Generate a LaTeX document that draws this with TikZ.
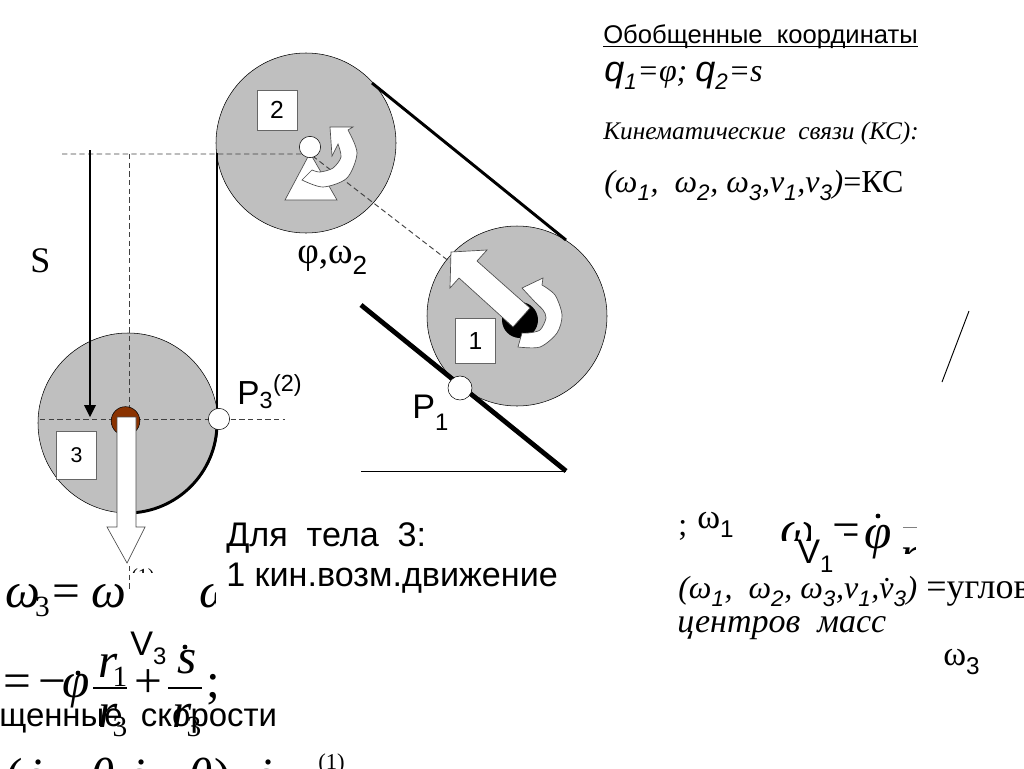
\documentclass[tikz,border=0pt]{standalone}
\usepackage{amsmath,amssymb}
\usepackage{fontspec}
\setmainfont{Liberation Serif}
\setsansfont{Liberation Sans}
\definecolor{hubbrown}{HTML}{8A3200}
\newcommand{\arialit}{\sffamily\itshape}
\newcommand{\asub}[1]{\raisebox{-.25ex}{\textsubscript{\sffamily\upshape #1}}}
\newcommand{\aisub}[1]{\raisebox{-.25ex}{\textsubscript{\arialit #1}}}
\newcommand{\px}[1]{\fontsize{#1}{#1}\selectfont}
\newcommand{\tsub}[1]{\kern-.1em\raisebox{-.2em}{\upshape\px{22}#1}}
\begin{document}
\begin{tikzpicture}
                [x=0.75pt,y=-0.75pt,
                ar/.style={anchor=base west,inner sep=0pt,font=\sffamily\px{25.6}},
                tm/.style={anchor=base west,inner sep=0pt,font=\px{24}},
                ti/.style={anchor=base west,inner sep=0pt,font=\itshape\px{24}},
                bigm/.style={anchor=base west,inner sep=0pt,font=\itshape\px{37}},
                disk/.style={circle,draw=black,fill=black!25,thin,inner sep=0pt,minimum size=135pt},
                pin/.style={circle,draw=black,fill=white,thin,inner sep=0pt,minimum size=16pt},
                num/.style={rectangle,draw=black!60,fill=white,inner sep=0pt,minimum width=30pt,font=\sffamily\px{18.5}},
                belt/.style={line width=2.2pt},
                dsh/.style={draw=black!75,line width=.7pt,dash pattern=on 4pt off 2.5pt},
                flat/.style={draw=black!70,fill=white,line width=.5pt}]
                \useasboundingbox (0,0) rectangle (1024,768);
                % bodies
                \node[disk] (disktwo) at (306,143){};
                \node[disk] (diskone) at (517,316){};
                \node[disk] (diskthree) at (128,423){};
                % incline
                \coordinate (slopetop) at (361,305);
                \coordinate (slopeend) at (566,471);
                \coordinate (groundend) at (361,471);
                \draw[line width=3.6pt] (slopetop) -- (slopeend);
                \draw[line width=.7pt] (groundend) -- (slopeend);
                % belts
                \coordinate (belttwo) at (217,153);
                \coordinate (beltthree) at (217,423);
                \coordinate (beltup) at (372,83);
                \coordinate (beltdown) at (566,240);
                \draw[belt] (belttwo) -- (beltthree);
                \draw[belt] (beltup) -- (beltdown);
                \draw[belt] (beltthree) arc[start angle=0,end angle=90,radius=90];
                % dashed axes
                \coordinate (axleft) at (62,154);
                \coordinate (axtwo) at (310,154);
                \coordinate (axone) at (450,262);
                \coordinate (axvtop) at (129,154);
                \coordinate (axvbot) at (129,420);
                \coordinate (axhl) at (40,419);
                \coordinate (axhr) at (285,419);
                \coordinate (axva) at (129,566);
                \coordinate (axvb) at (129,590);
                \draw[dsh] (axleft) -- (axtwo) -- (axone);
                \draw[dsh] (axvtop) -- (axvbot);
                \draw[dsh] (axhl) -- (axhr);
                \draw[dsh] (axva) -- (axvb);
                % s arrow
                \coordinate (stop) at (90,150);
                \coordinate (send) at (90,417);
                \draw[line width=1.1pt] (stop) -- (90,405);
                \fill (send) -- (84,405) -- (96,405) -- cycle;
                % body 2
                \draw[flat] (310,153) -- (285,200) -- (337,200) -- cycle;
                \draw[flat] plot[smooth] coordinates {(302,180) (323,187) (347,178) (357,153) (348,130)}
                            -- (353,127) -- (330,127) -- (332,156) -- (338,144)
                            -- plot[smooth] coordinates {(338,144) (341,157) (333,168) (320,172) (312,170)} -- cycle;
                \node[pin] (pintwo) at (310,147){};
                \node[num,minimum height=30pt] (boxtwo) at (277,110){2};
                % body 1
                \fill (520,320) circle[radius=13.5pt];
                \draw[flat] plot[smooth] coordinates {(518,347) (540,347) (557,333) (562,315) (555,295) (542,285)}
                            -- (543,278) -- (522,288) -- (535,302) -- (543,310)
                            -- plot[smooth] coordinates {(535,302) (543,310) (546,318) (540,330) (528,333) (522,333)} -- cycle;
                \draw[flat] (451,252) -- (487,250) -- (477,261) -- (530,308) -- (513,327) -- (459,278) -- (450,288) -- cycle;
                \node[num,minimum height=34pt] (boxone) at (475.5,341){1};
                \node[pin,minimum size=18pt] (pinone) at (460,388){};
                % body 3
                \node[circle,draw=black,fill=hubbrown,inner sep=0pt,minimum size=21.5pt] (hubthree) at (125.5,421){};
                \draw[flat] (117,417) -- (136,417) -- (136,527) -- (145,527) -- (127,563) -- (107,527) -- (117,527) -- cycle;
                \node[num,minimum height=36pt,font=\sffamily\px{16}] (boxthree) at (76.5,455){3};
                \node[pin] (pinthree) at (219,419){};
                % slanted stroke
                \coordinate (strokea) at (969,311);
                \coordinate (strokeb) at (942,382);
                \draw[line width=.7pt] (strokea) -- (strokeb);
                % top right texts
                \node[ar,font=\sffamily\px{19.2}] (coordtitle) at (603,43){\underline{\smash{Обобщенные\ \ координаты}}};
                \node[ti] (coordeq) at (604,81){{\arialit\px{27}q}\aisub{1}=φ; {\arialit\px{27}q}\aisub{2}=s};
                \node[ti,font=\itshape\px{19}] (linktitle) at (603,139){Кинематические\ \ связи (КС):};
                \node[ti] (linkeq) at (604,192){(ω\aisub{1},\ \ ω\aisub{2},\ ω\aisub{3},v\aisub{1},v\aisub{3})\upshape=КС};
                % labels
                \node[tm,font=\px{28}] (phiom) at (297,263){φ,ω\asub{2}};
                \node[tm,font=\px{27}] (slabel) at (30,272){S};
                \node[ar,font=\sffamily\px{25}] (pthree) at (237,404){P\textsubscript{3}\textsuperscript{(2)}};
                \node[ar] (pone) at (412,418){P\raisebox{-.4ex}{\textsubscript{1}}};
                \node[ar] (forbody) at (226,546){Для\ \ тела\ \ 3:};
                \node[ar] (freedom) at (226,586){1 кин.возм.движение};
                % cut formulas, left
                \node[bigm] (omthree) at (5,607){ω\tsub{3}};
                \node[bigm,font=\px{37}] (eqthree) at (52,607){=};
                \node[bigm] (omright) at (91,607){ω};
                \begin{scope}
                \clip (198,575) rectangle (215,615);
                \node[bigm] (omcut) at (199,607){ω};
                \end{scope}
                \begin{scope}
                \clip (125,564) rectangle (155,572);
                \node[tm,font=\px{15}] (supcut) at (131,582){(1)};
                \end{scope}
                % fractions
                \node[bigm,font=\px{37}] (eqfrac) at (3,697){=};
                \node[bigm,font=\px{37}] (minusfrac) at (38,697){−};
                \node[bigm] (phifrac) at (62,697){φ};
                \fill (78,673) circle[radius=2.4];
                \node[bigm] (rone) at (98,677){r\tsub{1}};
                \coordinate (barla) at (93,688);
                \coordinate (barlb) at (127,688);
                \draw[line width=.8pt] (barla) -- (barlb);
                \node[bigm] (rthree) at (98,727){r\tsub{3}};
                \node[bigm,font=\px{37}] (plusfrac) at (134,697){+};
                \node[bigm] (sdot) at (177,673){s};
                \fill (185,647) circle[radius=2.4];
                \coordinate (barra) at (168,688);
                \coordinate (barrb) at (202,688);
                \draw[line width=.8pt] (barra) -- (barrb);
                \node[bigm] (rthreeb) at (172,727){r\tsub{3}};
                \node[bigm,font=\px{37}] (semifrac) at (206,697){;};
                \node[ar] (vthree) at (130,655){V\asub{3}};
                \node[ar,font=\sffamily\px{24.7}] (speeds) at (-1,726){щенные\ \ скорости};
                % last line
                \node[bigm,font=\px{37}] (lparen) at (6,792){(};
                \node[bigm] (sone) at (25,792){\.s};
                \node[bigm] (thetaone) at (90,792){θ};
                \node[bigm] (stwo) at (128,792){\.s};
                \node[bigm] (thetatwo) at (188,792){θ};
                \node[bigm,font=\px{37}] (rparen) at (214,792){)};
                \node[bigm] (sthree) at (255,792){\.s};
                \node[tm,font=\px{17}] (lastsup) at (318,769){(1)};
                % cut formulas, right
                \node[tm] (semi) at (678,535){;};
                \node[tm,font=\px{26}] (omone) at (697,528){ω\asub{1}};
                \begin{scope}
                \clip (780,515) rectangle (810,540);
                \node[bigm] (omcuttwo) at (780,545){ω};
                \end{scope}
                \begin{scope}
                \clip (828,515) rectangle (864,529) (844,529) rectangle (862,540);
                \node[bigm,font=\px{37}] (eqcut) at (832,546){=};
                \end{scope}
                \node[bigm] (phidot) at (864,548){φ};
                \fill (878,516) circle[radius=2.4];
                \coordinate (cutbara) at (903,527);
                \coordinate (cutbarb) at (917,527);
                \draw[black!50,line width=.6pt] (cutbara) -- (cutbarb);
                \begin{scope}
                \clip (900,544) rectangle (915,553);
                \node[bigm] (rcut) at (900,570){r};
                \end{scope}
                \node[ar] (vone) at (797,563){V\asub{1}};
                \node[ti] (angeq) at (678,598){(ω\aisub{1},\ \ ω\aisub{2},\ ω\aisub{3},v\aisub{1},\.v\aisub{3})\upshape\px{27}\ =углов};
                \node[ti,font=\itshape\px{25.5}] (masses) at (677,632){центров\ \ масс};
                \node[tm,font=\px{26}] (omthreeb) at (943,665){ω\asub{3}};
\end{tikzpicture}
\end{document}
